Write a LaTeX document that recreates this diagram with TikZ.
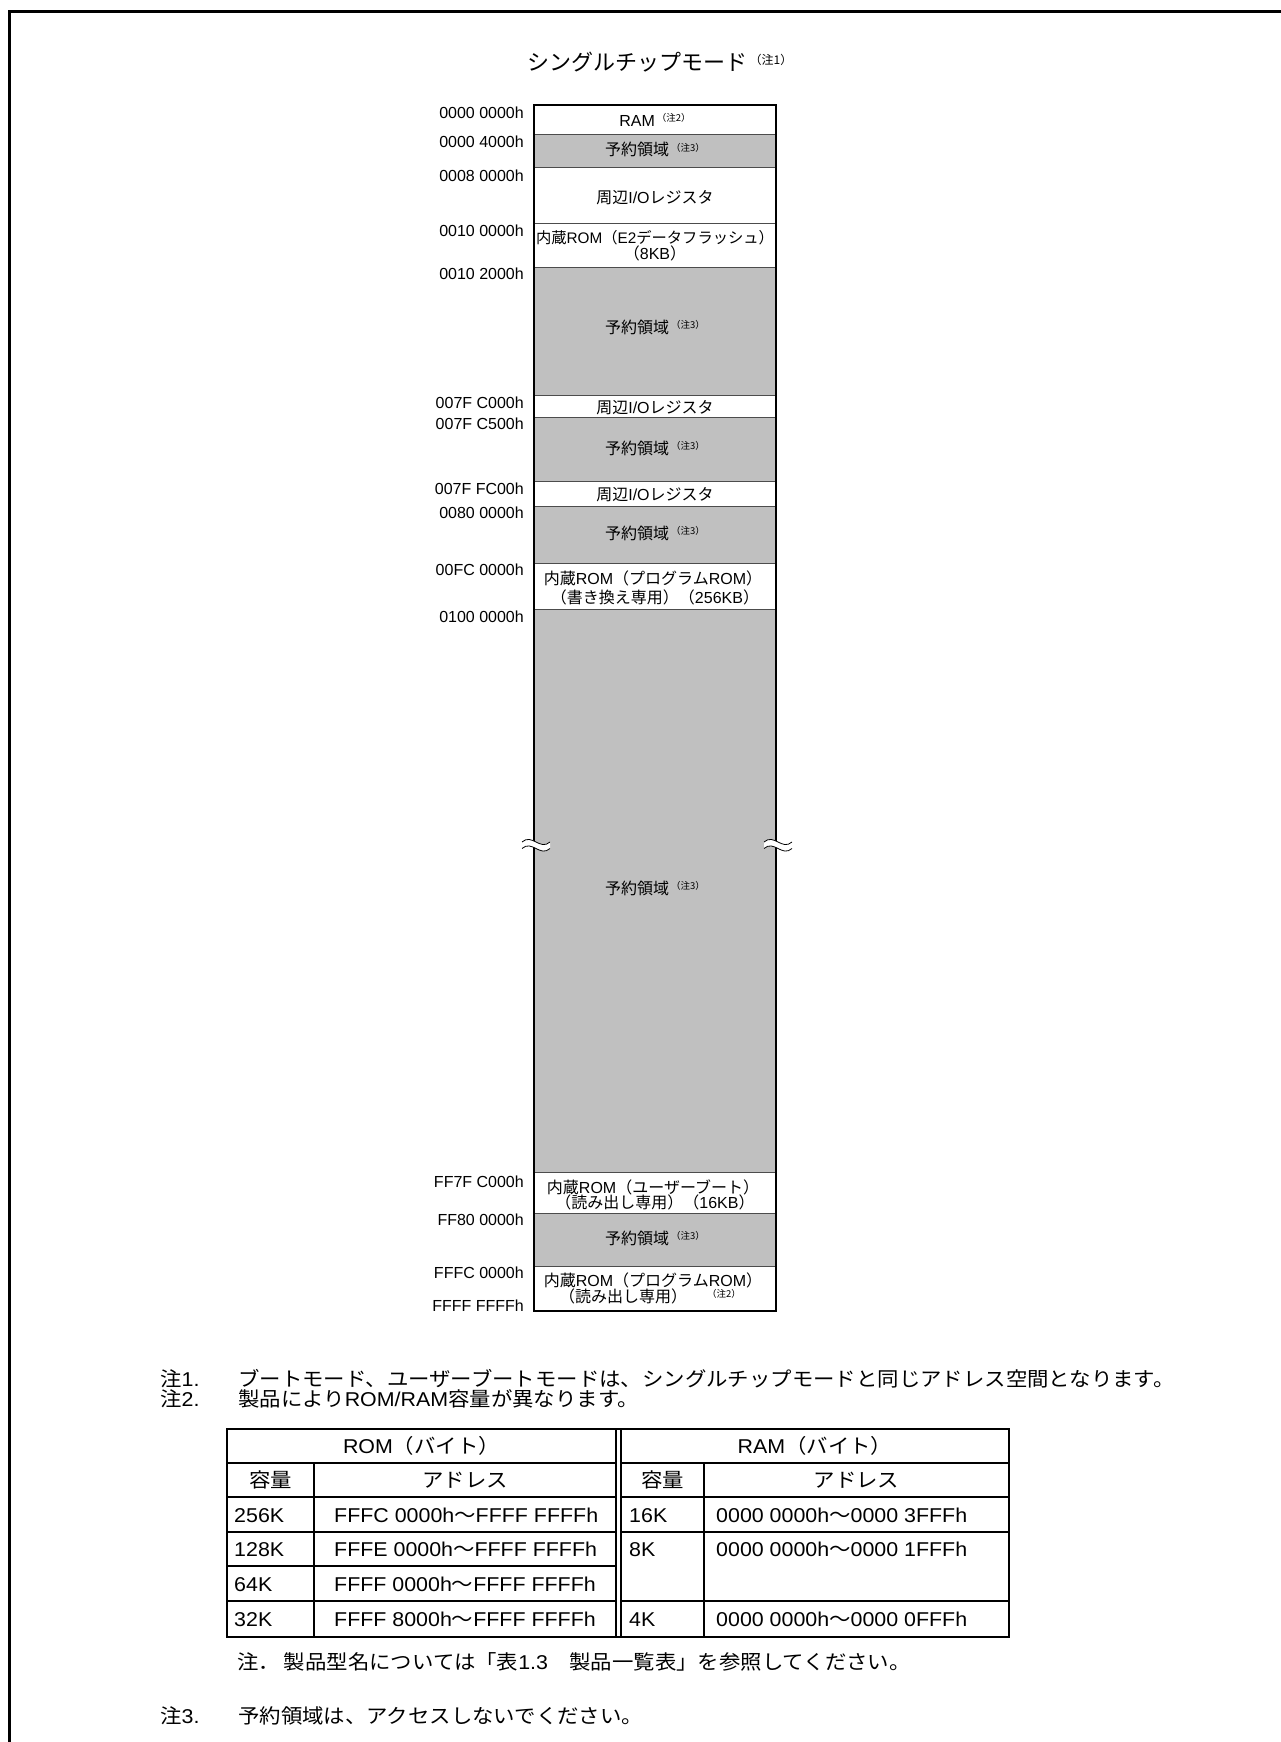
\documentclass[tikz,border=0pt]{standalone}
\usepackage{fontspec}
\setmainfont{Liberation Sans}
\newfontfamily\jfont{Noto Sans CJK JP}
\newfontfamily\jw{Noto Sans CJK JP}[FakeStretch=1.07]
\newfontfamily\lw{Liberation Sans}[FakeStretch=1.07]
\let\jcur\jfont
\newcommand\J[1]{{\jcur #1}}
\newcommand\fs[1]{\fontsize{#1}{#1}\selectfont}
\newcommand\ntb[1]{\hspace{2pt}\raisebox{5pt}{\fs{9.5}\J{（注#1）}}}
\definecolor{resv}{HTML}{C0C0C0}
\begin{document}
\begin{tikzpicture}[x=1pt,y=-1pt,
  addr/.style={anchor=base east, inner sep=0pt, font=\fs{16}},
  lbl/.style={anchor=base, inner sep=0pt, font=\fs{16}},
  txt/.style={anchor=base west, inner sep=0pt, font={\fs{20}\lw\let\jcur\jw}},
  ctxt/.style={anchor=base, inner sep=0pt, font={\fs{20}\lw\let\jcur\jw}},
  divider/.style={line width=1pt, black!70},
  tline/.style={line width=1.2pt},
  brkline/.style={line width=0.8pt}]
\useasboundingbox (0,0) rectangle (1281,1742);
\fill[white] (0,0) rectangle (1281,1742);
% outer frame (left and top only)
\draw[line width=3pt] (9,1742) -- (9,11.5) -- (1281,11.5);
% title
\node[anchor=base, inner sep=0pt, font=\fs{22}] (title) at (660,71) {\J{シングルチップモード}\hspace{2pt}\raisebox{6.5pt}{\fs{12}\J{（注1）}}};
% memory regions
\foreach \a/\b/\col in {105/135/white,135/167/resv,167/223/white,223/267/white,267/395/resv,395/417/white,417/481/resv,481/506/white,506/563/resv,563/609/white,609/1172/resv,1172/1213/white,1213/1266/resv,1266/1311/white}
  \fill[\col] (534,\a) rectangle (776,\b);
\foreach \y in {135,167,223,267,395,417,481,506,563,609,1172,1213,1266}
  \draw[divider] (534,\y) -- (776,\y);
\draw[line width=2.5pt] (534,105) rectangle (776,1311);
% break marks
\foreach \bx in {536,778} {
  \fill[white] ({\bx-14},842) .. controls +(10,-9) and +(-10,9) .. ({\bx+14},842)
     -- ({\bx+14},848.5) .. controls +(-10,9) and +(10,-9) .. ({\bx-14},848.5) -- cycle;
  \draw[brkline] ({\bx-14},842) .. controls +(10,-9) and +(-10,9) .. ({\bx+14},842);
  \draw[brkline] ({\bx-14},848.5) .. controls +(10,-9) and +(-10,9) .. ({\bx+14},848.5);
}
% addresses
\node[addr] (a1) at (524,118.5) {0000 0000h};
\node[addr] (a2) at (524,147.5) {0000 4000h};
\node[addr] (a3) at (524,181.5) {0008 0000h};
\node[addr] (a4) at (524,236.5) {0010 0000h};
\node[addr] (a5) at (524,279.5) {0010 2000h};
\node[addr] (a6) at (524,408.5) {007F C000h};
\node[addr] (a7) at (524,429.5) {007F C500h};
\node[addr] (a8) at (524,494.5) {007F FC00h};
\node[addr] (a9) at (524,518.5) {0080 0000h};
\node[addr] (a10) at (524,575.5) {00FC 0000h};
\node[addr] (a11) at (524,622.5) {0100 0000h};
\node[addr] (a12) at (524,1187.5) {FF7F C000h};
\node[addr] (a13) at (524,1225.5) {FF80 0000h};
\node[addr] (a14) at (524,1278.5) {FFFC 0000h};
\node[addr] (a15) at (524,1311) {FFFF FFFFh};
% region labels
\node[lbl] (ram) at (655,127) {RAM\ntb{2}};
\node[lbl] (r1) at (655,156) {\J{予約領域}\ntb{3}};
\node[lbl] (io1) at (655,203) {\J{周辺}I/O\J{レジスタ}};
\node[lbl, font=\fs{15.3}] (e2a) at (655,243) {\J{内蔵}ROM\J{（}E2\J{データフラッシュ）}};
\node[lbl] (e2b) at (655,259.5) {\J{（}8KB\J{）}};
\node[lbl] (r2) at (655,333) {\J{予約領域}\ntb{3}};
\node[lbl] (io2) at (655,413) {\J{周辺}I/O\J{レジスタ}};
\node[lbl] (r3) at (655,454.5) {\J{予約領域}\ntb{3}};
\node[lbl] (io3) at (655,500) {\J{周辺}I/O\J{レジスタ}};
\node[lbl] (r4) at (655,539) {\J{予約領域}\ntb{3}};
\node[lbl] (pa) at (653,584.5) {\J{内蔵}ROM\J{（プログラム}ROM\J{）}};
\node[lbl] (pb) at (655,603) {\J{（書き換え専用）（}256KB\J{）}};
\node[lbl] (r5) at (655,894) {\J{予約領域}\ntb{3}};
\node[lbl] (ua) at (653,1193) {\J{内蔵}ROM\J{（ユーザーブート）}};
\node[lbl] (ub) at (655,1208) {\J{（読み出し専用）（}16KB\J{）}};
\node[lbl] (r6) at (655,1244.5) {\J{予約領域}\ntb{3}};
\node[lbl] (qa) at (653,1286) {\J{内蔵}ROM\J{（プログラム}ROM\J{）}};
\node[lbl] (qb) at (650,1302.5) {\J{（読み出し専用）}\hspace{20pt}\raisebox{5pt}{\fs{9.5}\J{（注2）}}};
% notes
\node[txt] (n1l) at (160,1386) {\J{注}1.};
\node[txt] (n1) at (238,1386) {\J{ブートモード、ユーザーブートモードは、シングルチップモードと同じアドレス空間となります。}};
\node[txt] (n2l) at (160,1406) {\J{注}2.};
\node[txt] (n2) at (238,1406) {\J{製品により}ROM/RAM\J{容量が異なります。}};
% table
\foreach \y in {1463,1497,1532,1601} {
  \draw[tline] (227,\y) -- (616,\y);
  \draw[tline] (621,\y) -- (1009,\y);
}
\draw[tline] (227,1566) -- (616,1566);
\draw[tline] (314,1463) -- (314,1637);
\draw[tline] (616,1429) -- (616,1637);
\draw[tline] (621,1429) -- (621,1637);
\draw[tline] (704,1463) -- (704,1637);
\draw[line width=2.2pt] (227,1429) rectangle (1009,1637);
\node[ctxt] (romh) at (421.5,1453.5) {ROM\J{（バイト）}};
\node[ctxt] (ramh) at (815,1453.5) {RAM\J{（バイト）}};
\node[ctxt] (romcap) at (270.5,1487.5) {\J{容量}};
\node[ctxt] (romadr) at (465,1487.5) {\J{アドレス}};
\node[ctxt] (ramcap) at (662.5,1487.5) {\J{容量}};
\node[ctxt] (ramadr) at (856.5,1487.5) {\J{アドレス}};
\node[txt] (c1) at (234,1522) {256K};
\node[txt] (d1) at (334,1522) {FFFC 0000h\J{～}FFFF FFFFh};
\node[txt] (c2) at (234,1556.5) {128K};
\node[txt] (d2) at (334,1556.5) {FFFE 0000h\J{～}FFFF FFFFh};
\node[txt] (c3) at (234,1591) {64K};
\node[txt] (d3) at (334,1591) {FFFF 0000h\J{～}FFFF FFFFh};
\node[txt] (c4) at (234,1626.5) {32K};
\node[txt] (d4) at (334,1626.5) {FFFF 8000h\J{～}FFFF FFFFh};
\node[txt] (e1) at (629,1522) {16K};
\node[txt] (f1) at (716,1522) {0000 0000h\J{～}0000 3FFFh};
\node[txt] (e2) at (629,1556.5) {8K};
\node[txt] (f2) at (716,1556.5) {0000 0000h\J{～}0000 1FFFh};
\node[txt] (e3) at (629,1626.5) {4K};
\node[txt] (f3) at (716,1626.5) {0000 0000h\J{～}0000 0FFFh};
\node[txt] (tn) at (237,1669) {\J{注．}\hspace{4pt}\J{製品型名については「表}1.3\J{　製品一覧表」を参照してください。}};
\node[txt] (n3l) at (160,1723) {\J{注}3.};
\node[txt] (n3) at (238,1723) {\J{予約領域は、アクセスしないでください。}};
\end{tikzpicture}
\end{document}
